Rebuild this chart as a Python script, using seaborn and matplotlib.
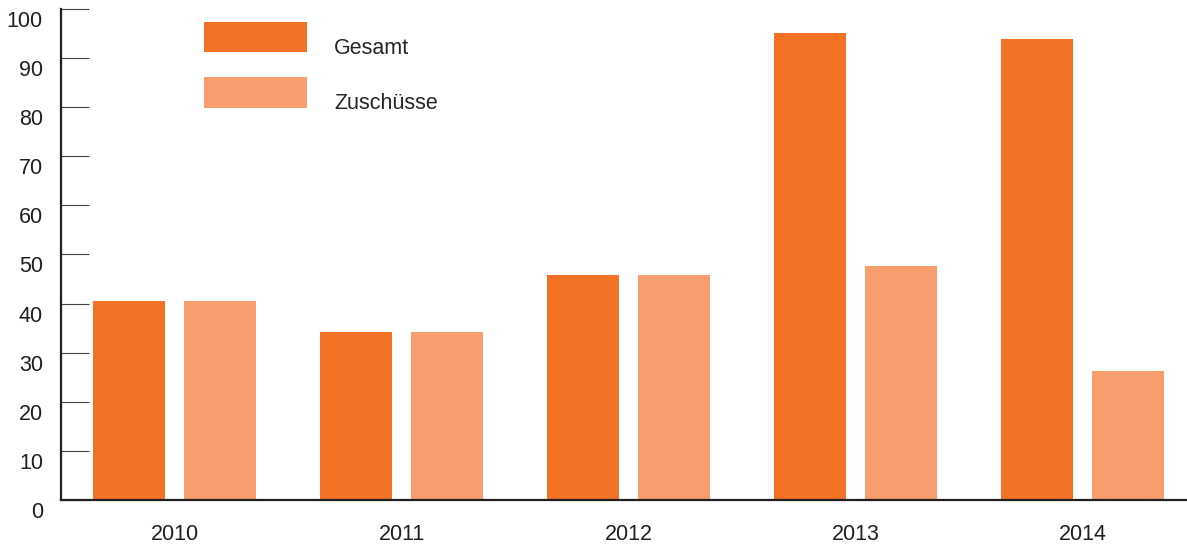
import pandas as pd
import matplotlib
matplotlib.use("Agg")
import matplotlib.pyplot as plt
import matplotlib.transforms as mtransforms
import seaborn as sns

# Values
jahre = ["2010", "2011", "2012", "2013", "2014"]
gesamt = [40.5, 34.2, 45.8, 95.1, 93.9]
zuschuesse = [40.5, 34.2, 45.8, 47.7, 26.3]
serien = ["Gesamt", "Zuschüsse"]
farben = ["#F27125", "#F89E6E"]
y_ticks = list(range(0, 101, 10))

df = pd.DataFrame({
    "Jahr": jahre * 2,
    "Wert": gesamt + zuschuesse,
    "Serie": [serien[0]] * len(jahre) + [serien[1]] * len(jahre),
})

sns.set_style("white")
plt.rcParams["font.family"] = ["Liberation Sans", "DejaVu Sans"]

fig = plt.figure(figsize=(11.87, 5.45), dpi=100)
ax = fig.add_axes([0.0514, 0.0826, 0.9486, 0.9009])

sns.barplot(
    data=df, x="Jahr", y="Wert", hue="Serie", hue_order=serien,
    palette=farben, saturation=1, width=0.8, gap=0.2,
    errorbar=None, linewidth=0, ax=ax,
)

ax.set_xlim(-0.5, 4.46)
ax.set_ylim(0, 100)
ax.set_yticks(y_ticks)
ax.set_xlabel("")
ax.set_ylabel("")

for side in ["top", "right"]:
    ax.spines[side].set_visible(False)
for side in ["left", "bottom"]:
    ax.spines[side].set_color("#231F20")
    ax.spines[side].set_linewidth(1.6)

ax.tick_params(axis="y", left=True, direction="in", length=20, width=0.8,
               color="#444444", pad=13, labelsize=15.5, labelcolor="#231F20")
ax.tick_params(axis="x", bottom=False, length=0, pad=17.5, labelsize=15.5,
               labelcolor="#231F20")

# y labels sit a little below their tick lines in the original
down = mtransforms.ScaledTranslation(0, -0.10, fig.dpi_scale_trans)
for lbl in ax.get_yticklabels():
    lbl.set_transform(lbl.get_transform() + down)

leg = ax.legend(
    loc="upper left", bbox_to_anchor=(0.127, 0.974), frameon=False,
    fontsize=15.5, handlelength=4.8, handleheight=1.8, labelspacing=1.16,
    handletextpad=1.25, borderpad=0, borderaxespad=0,
)
for t in leg.get_texts():
    t.set_transform(t.get_transform() + down)

fig.savefig("out.png", dpi=100)
